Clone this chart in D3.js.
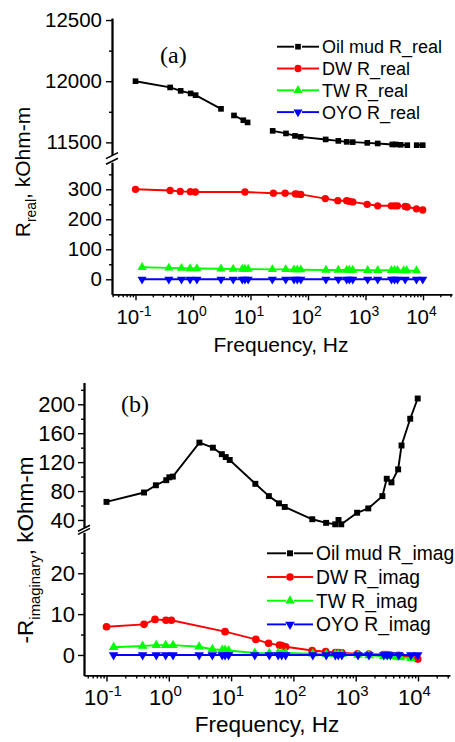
<!DOCTYPE html>
<html>
<head>
<meta charset="utf-8">
<script src="https://cdn.jsdelivr.net/npm/d3@7"></script>
<style>
  body { margin: 0; background: #fff; }
  text { font-family: "Liberation Sans", Arial, sans-serif; fill: #000; }
</style>
</head>
<body>
<svg id="fig" width="455" height="742"></svg>
<script>
// ---- data ----
// panel (a): real part
var freqMudA = [0.1, 0.4, 0.61, 0.91, 1.11, 3.07, 5.16, 7.5, 8.9, 24.3, 41.4, 59.4, 74.6, 203, 337, 471, 599, 1074, 1630, 2925, 3350, 4090, 5330, 7770, 9880];
var mudReal = [12000, 11949, 11921, 11900, 11886, 11774, 11720, 11681, 11663, 11594, 11573, 11553, 11545, 11524, 11512, 11504, 11502, 11496, 11491, 11483, 11483, 11480, 11477, 11477, 11477];
var mudRealSegStarts = [0, 6, 9, 23]; // line is broken in the original

var freqDW = [0.1, 0.4, 0.6, 0.9, 1.1, 8, 25, 40, 60, 65, 75, 200, 330, 470, 520, 600, 1070, 1630, 2800, 3200, 3600, 4900, 5300, 7700, 9900];
var dwReal = [300, 296, 293, 292, 291, 291, 287, 287, 285, 284, 283, 269, 262, 262, 260, 258, 250, 245, 245, 245, 245, 243, 241, 235, 231];

var freqTW = [0.13, 0.38, 0.63, 0.89, 1.17, 3.07, 5.0, 7.2, 8.0, 9.1, 24, 41, 57, 65, 75, 205, 337, 471, 525, 600, 1090, 1630, 2830, 3200, 3600, 4600, 5200, 7700];
var twReal = [40, 38, 37, 36, 36, 35, 34, 34, 34, 34, 33, 33, 32, 32, 32, 31, 31, 31, 31, 31, 30, 30, 30, 30, 30, 29, 29, 29];

var freqOYO = [0.13, 0.38, 0.63, 0.89, 1.17, 3.07, 5.0, 7.2, 8.0, 9.1, 24, 41, 57, 65, 75, 205, 337, 471, 525, 600, 1090, 1630, 2830, 3200, 3600, 4900, 7700, 9900];
var oyoReal = [0, 0, 0, 0, 0, 0, 0, 0, 0, 0, 0, 0, 0, 0, 0, 0, 0, 0, 0, 0, 0, 0, 0, 0, 0, 0, 0, 0];

// panel (b): imaginary part
var freqMudB = [0.1, 0.4, 0.62, 0.91, 1.02, 1.16, 3.1, 5.1, 7.1, 8.2, 9.5, 24.5, 40.4, 58.6, 72.6, 201, 335, 469, 530, 586, 1054, 1590, 2680, 3150, 3750, 4800, 5440, 7500, 9890];
var mudImag = [65, 78, 88, 95, 99, 100, 147, 140, 131, 127, 123, 90, 73, 63, 58, 41, 36, 34, 40, 34, 50, 56, 73, 97, 92, 110, 143, 180, 208];
var dwImag = [6.9, 7.5, 8.7, 8.5, 8.5, 5.7, 3.8, 2.85, 2.4, 2.3, 2.0, 1.1, 0.8, 0.6, 0.6, 0.5, 0.3, 0.2, 0.1, 0.1, 0.0, -0.1, -0.2, -0.5, -1.0];
var twImag = [1.9, 2.2, 2.4, 2.4, 2.4, 2.0, 1.4, 1.2, 1.2, 1.1, 0.5, 0.4, 0.5, 0.5, 0.5, 0.3, 0.2, 0.2, 0.2, 0.2, 0.0, -0.1, -0.3, -0.3, -0.3, -0.5, -0.6, -0.8];
var oyoImag = [0, 0, 0, 0, 0, 0, 0, 0, 0, 0, 0, 0, 0, 0, 0, 0, 0, 0, 0, 0, 0, 0, 0, 0, 0, 0, 0, 0];

var legendA = ["Oil mud R_real", "DW R_real", "TW R_real", "OYO R_real"];
var legendB = ["Oil mud R_imag", "DW R_imag", "TW R_imag", "OYO R_imag"];
var xMajors = [0.1, 1, 10, 100, 1000, 10000];
var xExps = ["-1", "0", "1", "2", "3", "4"];

var svg = d3.select("#fig");

var colors = ["#000000", "#ff0000", "#00ff00", "#0000ff"];
var shapes = ["square", "circle", "up", "down"];

function symbolPath(shape, k) {
  if (shape == "square") return d3.symbol(d3.symbolSquare, 32 * k)();
  if (shape == "circle") return d3.symbol(d3.symbolCircle, 42 * k)();
  return d3.symbol(d3.symbolTriangle, 36 * k)();
}

function drawMarker(g, shape, color, cx, cy, k) {
  g.append("path")
    .attr("d", symbolPath(shape, k))
    .attr("transform", "translate(" + cx + "," + cy + ")" + (shape == "down" ? " rotate(180)" : ""))
    .attr("fill", color);
}

function drawPanel(p) {
  var g = svg.append("g");

  // x scale: anchor 0.1 and 1e4 then extend to axis ends
  var x = d3.scaleLog().domain([0.1, 1e4]).range(p.decadePx);
  x.domain([x.invert(p.xEnds[0]), x.invert(p.xEnds[1])]).range(p.xEnds);

  var yU = d3.scaleLinear().domain(p.upDomain).range(p.upRange);
  var yL = d3.scaleLinear().domain(p.lowDomain).range(p.lowRange);

  // minor x ticks
  var minors = [];
  for (var e = -2; e <= 4; e++) {
    for (var m = 2; m <= 9; m++) {
      var v = m * Math.pow(10, e);
      if (v > x.domain()[0] && v < x.domain()[1]) minors.push(v);
    }
  }
  var xb = p.lowRange[0];
  g.append("g")
    .attr("transform", "translate(0," + xb + ")")
    .call(d3.axisBottom(x).tickValues(minors).tickSize(3).tickFormat("").tickSizeOuter(0))
    .call(function (s) { s.select(".domain").remove(); });
  var xa = g.append("g")
    .attr("transform", "translate(0," + xb + ")")
    .call(d3.axisBottom(x).tickValues(xMajors).tickSize(6).tickSizeOuter(0));
  xa.selectAll("text").each(function (d, i) {
    var t = d3.select(this);
    t.text(null).attr("y", p.xLabelDy).attr("dy", null).attr("font-size", p.tickFs)
      .attr("dx", p.xLabelDx);
    t.append("tspan").text("10");
    t.append("tspan").attr("font-size", p.tickFs * 0.68).attr("dy", -p.tickFs * 0.42).text(xExps[i]);
  });

  // y axes (upper and lower segments)
  function yAxis(scale, majors, minorsY) {
    g.append("g")
      .attr("transform", "translate(" + p.xEnds[0] + ",0)")
      .call(d3.axisLeft(scale).tickValues(minorsY).tickSize(3).tickFormat("").tickSizeOuter(0));
    g.append("g")
      .attr("transform", "translate(" + p.xEnds[0] + ",0)")
      .call(d3.axisLeft(scale).tickValues(majors).tickSize(6).tickPadding(p.yPad)
        .tickFormat(d3.format("d")).tickSizeOuter(0))
      .selectAll("text").attr("font-size", p.tickFs);
  }
  yAxis(yU, p.upMajors, p.upMinors);
  yAxis(yL, p.lowMajors, p.lowMinors);

  g.selectAll(".domain").attr("stroke-width", 1.8);
  g.selectAll(".tick line").attr("stroke-width", 1.4);

  // axis break marks
  var bx = p.xEnds[0];
  [p.upRange[0] + 1, p.lowRange[1] - 1].forEach(function (by) {
    g.append("line")
      .attr("x1", bx - 6).attr("y1", by + 3).attr("x2", bx + 6).attr("y2", by - 3)
      .attr("stroke", "#000").attr("stroke-width", 1.6);
  });

  // series
  p.series.forEach(function (s, si) {
    var y = s.upper ? yU : yL;
    var pts = s.freq.map(function (f, i) { return [x(f), y(s.vals[i])]; });
    var starts = s.segs || [0];
    starts.forEach(function (st, k) {
      var end = k + 1 < starts.length ? starts[k + 1] : pts.length;
      g.append("path")
        .attr("d", d3.line()(pts.slice(st, end)))
        .attr("fill", "none").attr("stroke", colors[si]).attr("stroke-width", 1.9);
    });
    pts.forEach(function (pt) { drawMarker(g, shapes[si], colors[si], pt[0], pt[1], p.mk); });
  });

  // legend
  p.legend.forEach(function (name, i) {
    var cy = p.legY + i * p.legDy;
    var lx = p.legX;
    g.append("line").attr("x1", lx).attr("x2", lx + p.legHalf - 4).attr("y1", cy).attr("y2", cy)
      .attr("stroke", colors[i]).attr("stroke-width", 1.9);
    g.append("line").attr("x1", lx + p.legHalf + 4).attr("x2", lx + 2 * p.legHalf).attr("y1", cy).attr("y2", cy)
      .attr("stroke", colors[i]).attr("stroke-width", 1.9);
    drawMarker(g, shapes[i], colors[i], lx + p.legHalf, cy, p.mk);
    g.append("text").attr("x", lx + 2 * p.legHalf + 3).attr("y", cy + p.legFs * 0.36)
      .attr("font-size", p.legFs).text(name);
  });

  // panel tag
  g.append("text").attr("x", p.tag[0]).attr("y", p.tag[1])
    .style("font-family", '"Liberation Serif", "Times New Roman", serif')
    .attr("font-size", p.tagFs).text(p.tagText);

  // x title
  g.append("text").attr("x", p.xTitle[0]).attr("y", p.xTitle[1])
    .attr("text-anchor", "middle").attr("font-size", p.titleFs).text("Frequency, Hz");

  // y title with subscript
  var yt = g.append("text")
    .attr("transform", "translate(" + p.yTitle[0] + "," + p.yTitle[1] + ") rotate(-90)")
    .attr("text-anchor", "middle").attr("font-size", p.titleFs);
  yt.append("tspan").text(p.yMain);
  yt.append("tspan").attr("font-size", p.titleFs * 0.66).attr("dy", p.titleFs * 0.3).text(p.ySub);
  yt.append("tspan").attr("dy", -p.titleFs * 0.3).text(", kOhm-m");
}

drawPanel({
  decadePx: [135.5, 423], xEnds: [112, 452],
  upDomain: [11400, 12515], upRange: [154.6, 18.2],
  lowDomain: [-50, 390], lowRange: [294.3, 162.3],
  upMajors: [11500, 12000, 12500], upMinors: [11750, 12250],
  lowMajors: [0, 100, 200, 300], lowMinors: [50, 150, 250, 350],
  tickFs: 20.5, titleFs: 21, yPad: 4, xLabelDy: 30, xLabelDx: -2, mk: 1,
  series: [
    { freq: freqMudA, vals: mudReal, upper: true, segs: mudRealSegStarts },
    { freq: freqDW, vals: dwReal },
    { freq: freqTW, vals: twReal },
    { freq: freqOYO, vals: oyoReal }
  ],
  legend: legendA, legX: 277, legY: 46.7, legDy: 21.8, legHalf: 21, legFs: 18,
  tag: [160, 63], tagFs: 24, tagText: "(a)",
  xTitle: [281, 352], yTitle: [30, 172], yMain: "R", ySub: "real"
});

drawPanel({
  decadePx: [106.5, 418], xEnds: [84, 450],
  upDomain: [30, 230], upRange: [527.2, 382.6],
  lowDomain: [-5, 30], lowRange: [675.4, 532.4],
  upMajors: [40, 80, 120, 160, 200], upMinors: [60, 100, 140, 180, 220],
  lowMajors: [0, 10, 20], lowMinors: [5, 15, 25],
  tickFs: 22, titleFs: 22.5, yPad: 3, xLabelDy: 30, xLabelDx: -4, mk: 1.1,
  series: [
    { freq: freqMudB, vals: mudImag, upper: true },
    { freq: freqDW, vals: dwImag },
    { freq: freqTW, vals: twImag },
    { freq: freqOYO, vals: oyoImag }
  ],
  legend: legendB, legX: 267, legY: 553.3, legDy: 23.7, legHalf: 23, legFs: 19.3,
  tag: [121, 412], tagFs: 24, tagText: "(b)",
  xTitle: [267, 732], yTitle: [33, 550], yMain: "-R", ySub: "imaginary"
});
</script>
</body>
</html>
